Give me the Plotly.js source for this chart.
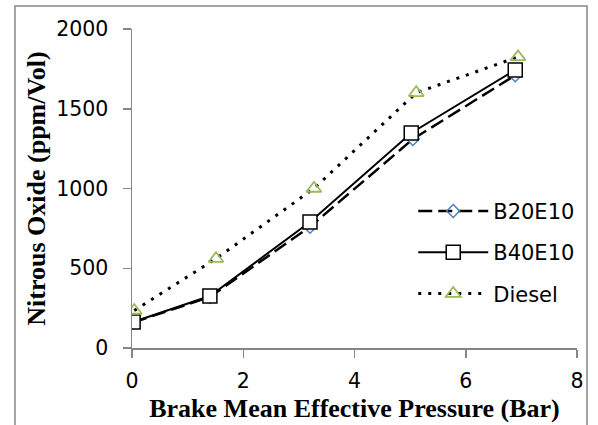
<!DOCTYPE html>
<html><head><meta charset="utf-8">
<script src="https://cdn.plot.ly/plotly-3.0.1.min.js"></script>
<style>html,body{margin:0;padding:0;background:#fff}#c{width:598px;height:425px}</style>
</head><body><div id="c"></div>
<script>
const seriesNames = ["B20E10", "B40E10", "Diesel"];
const b20x = [0.02, 1.40, 3.20, 5.05, 6.89];
const b20y = [160, 320, 760, 1310, 1710];
const b40x = [0.02, 1.40, 3.20, 5.02, 6.89];
const b40y = [163, 326, 790, 1348, 1743];
const dieselX = [0.04, 1.51, 3.27, 5.11, 6.94];
const dieselY = [235, 560, 1000, 1600, 1825];
const xTicks = [0, 2, 4, 6, 8];
const yTicks = [0, 500, 1000, 1500, 2000];

const tickFont = {family: 'DejaVu Sans, sans-serif', size: 20.5, color: '#000'};
const titleFont = {family: 'Liberation Serif, serif', size: 26, color: '#000', weight: 'bold'};

const traces = [
  {x: b20x, y: b20y, name: seriesNames[0], legendgroup: 'a', mode: 'lines+markers', type: 'scatter',
   line: {color: '#000', width: 2.5, dash: '14px,6px'},
   marker: {symbol: 'diamond-open', size: 10, color: '#4f81bd', line: {width: 1.5, color: '#4f81bd'}}},
  {x: b40x, y: b40y, name: seriesNames[1], legendgroup: 'b', mode: 'lines+markers', type: 'scatter',
   line: {color: '#000', width: 2},
   marker: {symbol: 'square', size: 14, color: '#fff', line: {width: 1.5, color: '#000'}}},
  {x: dieselX, y: dieselY, name: seriesNames[2], legendgroup: 'c', mode: 'lines+markers', type: 'scatter',
   line: {color: '#000', width: 3, dash: '3px,7px'},
   marker: {symbol: 'triangle-up-open', size: 13, color: '#9bbb59', line: {width: 1.8, color: '#9bbb59'}}}
];

const layout = {
  width: 598, height: 425,
  margin: {l: 132, r: 21, t: 29, b: 77},
  paper_bgcolor: '#fff', plot_bgcolor: '#fff',
  showlegend: true,
  legend: {x: 0.632, y: 0.30, xanchor: 'left', yanchor: 'middle', traceorder: 'grouped',
           font: {family: 'DejaVu Sans, sans-serif', size: 21, color: '#000'},
           itemwidth: 70, tracegroupgap: 11, bgcolor: 'rgba(0,0,0,0)'},
  xaxis: {range: [0, 8], tickvals: xTicks, ticktext: xTicks.map(String),
          showgrid: false, zeroline: false, showline: true, linecolor: '#868686', linewidth: 1.5,
          ticks: 'outside', ticklen: 8, tickcolor: '#868686', tickwidth: 1.5, ticklabelstandoff: 6,
          tickfont: tickFont,
          title: {text: 'Brake Mean Effective Pressure (Bar)', standoff: 6, font: titleFont}},
  yaxis: {range: [0, 2000], tickvals: yTicks, ticktext: yTicks.map(String),
          showgrid: false, zeroline: false, showline: true, linecolor: '#868686', linewidth: 1.5,
          ticks: 'outside', ticklen: 8, tickcolor: '#868686', tickwidth: 1.5, ticklabelstandoff: 10,
          tickfont: tickFont,
          title: {text: 'Nitrous Oxide (ppm/Vol)', standoff: 3, font: titleFont}},
  shapes: [{type: 'rect', xref: 'paper', yref: 'paper', x0: -0.263, x1: 1.0225, y0: -0.35, y1: 1.072,
            line: {color: '#868686', width: 1.5}, fillcolor: 'rgba(0,0,0,0)', layer: 'below'}]
};
Plotly.newPlot('c', traces, layout, {displayModeBar: false, staticPlot: true});
</script></body></html>
